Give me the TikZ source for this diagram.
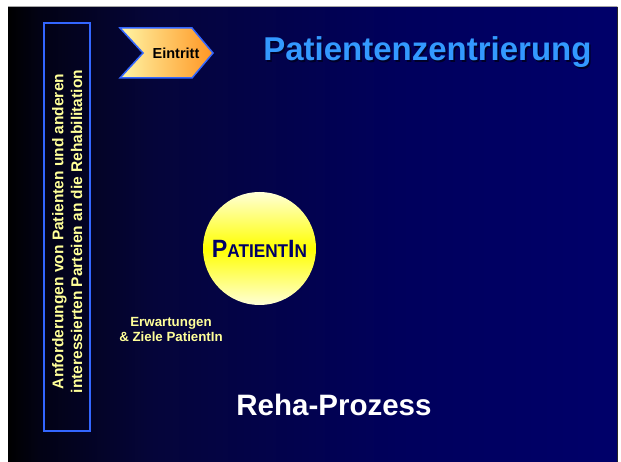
\documentclass[tikz,border=0pt]{standalone}
\usepackage{fontspec}
\setmainfont{Liberation Sans}
\definecolor{bordblue}{RGB}{51,102,255}
\definecolor{titleblue}{RGB}{51,153,255}
\definecolor{titleshadow}{RGB}{0,0,40}
\definecolor{paleyel}{RGB}{255,255,153}
\definecolor{navytext}{RGB}{0,0,102}
\definecolor{chevL}{RGB}{255,245,165}
\definecolor{chevR}{RGB}{255,150,35}
\definecolor{circtop}{RGB}{255,255,215}
\definecolor{bgA}{RGB}{2,2,20}
\definecolor{bgB}{RGB}{5,5,58}
\definecolor{bgC}{RGB}{0,0,92}
\definecolor{bgD}{RGB}{0,0,106}
\pgfdeclarehorizontalshading{slidebg}{100bp}{color(0bp)=(black); color(25bp)=(black); color(27.5bp)=(bgA); color(37bp)=(bgB); color(57bp)=(bgC); color(75bp)=(bgD); color(100bp)=(bgD)}
\tikzset{
  boldtxt/.style={font=\bfseries\fontsize{#1}{#1}\selectfont},
  framebox/.style={draw=bordblue, line width=2pt, inner sep=0pt},
}
\newcommand{\shadowtext}[1]{\makebox[0pt][l]{\hspace{1.6pt}\raisebox{-1.6pt}{\color{titleshadow}#1}}#1}
\begin{document}
\begin{tikzpicture}[x=1pt,y=-1pt]
\useasboundingbox (0,0) rectangle (621,462);
\fill[white] (0,0) rectangle (621,462);
\shade[shading=slidebg] (8,7) rectangle (617,462);
\draw[gray!70, line width=1pt] (8,7) -- (617,7);
\draw[black!85, line width=1pt] (617.5,7) -- (617.5,462);
% left frame
\node[framebox, minimum width=46pt, minimum height=408pt] (frame) at (66.5,227) {};
\node[rotate=90, align=center, text=paleyel, font=\bfseries\fontsize{15.5}{18.7}\selectfont] (anf) at (67.3,231.5)
  {Anforderungen von Patienten und anderen\\interessierten Parteien an die Rehabilitation};
% chevron
\shade[left color=chevL, right color=chevR, draw=bordblue, line width=1.5pt]
  (120,28) -- (192,28) -- (213,53) -- (192,78) -- (120,78) -- (143,53) -- cycle;
\node[boldtxt=14.5, text=black, anchor=base] (eintritt) at (176,58.5) {Eintritt};
% title with shadow
\node[boldtxt=33, text=titleblue, anchor=base] (title) at (427.4,61) {\shadowtext{Patientenzentrierung}};
% patient circle
\node[circle, minimum size=113pt, inner sep=0pt, top color=circtop, bottom color=circtop, middle color=yellow, text=navytext] (pat) at (259.5,248.5)
  {\scalebox{0.93}[1]{\bfseries\fontsize{25}{25}\selectfont P\fontsize{18.5}{18.5}\selectfont ATIENT\fontsize{25}{25}\selectfont I\fontsize{18.5}{18.5}\selectfont N}};
% expectations
\node[align=center, text=paleyel, font=\bfseries\fontsize{13.3}{15}\selectfont] (erw) at (171,329) {Erwartungen\\\& Ziele PatientIn};
% Reha-Prozess
\node[boldtxt=29.5, text=white, anchor=base] (reha) at (334,415) {Reha-Prozess};
\end{tikzpicture}
\end{document}
